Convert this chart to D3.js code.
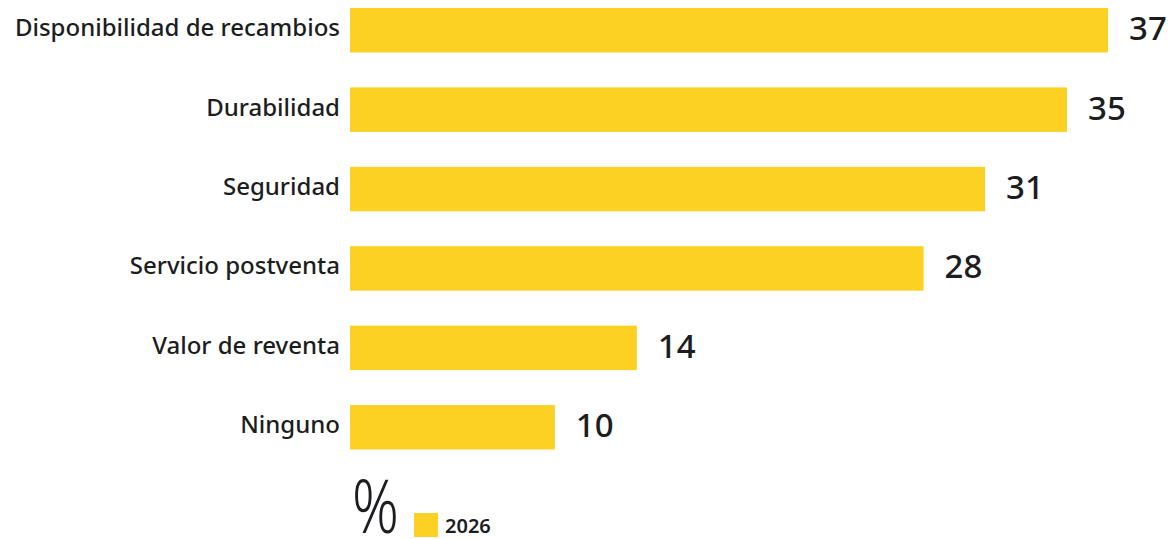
<!DOCTYPE html>
<html>
<head>
<meta charset="utf-8">
<script src="https://cdn.jsdelivr.net/npm/d3@7"></script>
<style>
  html, body { margin: 0; padding: 0; background: #fff; }
  svg { display: block; }
</style>
</head>
<body>
<svg id="chart" width="1174" height="539"></svg>
<script>
// Motivos de compra (%) — barras horizontales
const categories = [
  "Disponibilidad de recambios",
  "Durabilidad",
  "Seguridad",
  "Servicio postventa",
  "Valor de reventa",
  "Ninguno"
];
const values2026 = [37, 35, 31, 28, 14, 10];
const seriesName = "2026";
const unitLabel = "%";

const barColor = "#FCD123";
const textColor = "#1b1d21";

const svg = d3.select("#chart");

const x = d3.scaleLinear().domain([0, 37]).range([350, 1108]);
const y = d3.scaleBand()
  .domain(categories)
  .range([8, 449.5])
  .paddingInner(0.44)
  .paddingOuter(0);

const data = categories.map((c, i) => ({ cat: c, val: values2026[i] }));

// bars
svg.append("g").selectAll("rect")
  .data(data)
  .join("rect")
  .attr("x", x(0))
  .attr("y", d => y(d.cat))
  .attr("width", d => x(d.val) - x(0))
  .attr("height", y.bandwidth())
  .attr("fill", barColor);

// category labels
const yAxis = d3.axisLeft(y).tickSize(0).tickPadding(10);
const gy = svg.append("g")
  .attr("transform", `translate(${x(0)},0)`)
  .call(yAxis);
gy.select(".domain").remove();
gy.selectAll("text")
  .attr("fill", textColor)
  .attr("dy", "0.25em")
  .style("font-family", "'Noto Sans', sans-serif")
  .style("font-size", "24px")
  .style("font-weight", "500");

// value labels
svg.append("g").selectAll("text")
  .data(data)
  .join("text")
  .attr("x", d => x(d.val) + 21)
  .attr("y", d => y(d.cat) + y.bandwidth() / 2)
  .attr("dy", "0.3em")
  .attr("fill", textColor)
  .style("font-family", "'Noto Sans', sans-serif")
  .style("font-size", "33px")
  .style("font-weight", "500")
  .text(d => d.val);

// unit and legend
svg.append("text")
  .attr("transform", "translate(352,533) scale(0.78,1)")
  .attr("fill", textColor)
  .style("font-family", "'Noto Sans', sans-serif")
  .style("font-size", "74px")
  .style("font-weight", "300")
  .text(unitLabel);

svg.append("rect")
  .attr("x", 414)
  .attr("y", 513)
  .attr("width", 24)
  .attr("height", 24)
  .attr("fill", barColor);

svg.append("text")
  .attr("x", 445)
  .attr("y", 533)
  .attr("fill", textColor)
  .style("font-family", "'Noto Sans', sans-serif")
  .style("font-size", "20px")
  .style("font-weight", "600")
  .text(seriesName);
</script>
</body>
</html>
